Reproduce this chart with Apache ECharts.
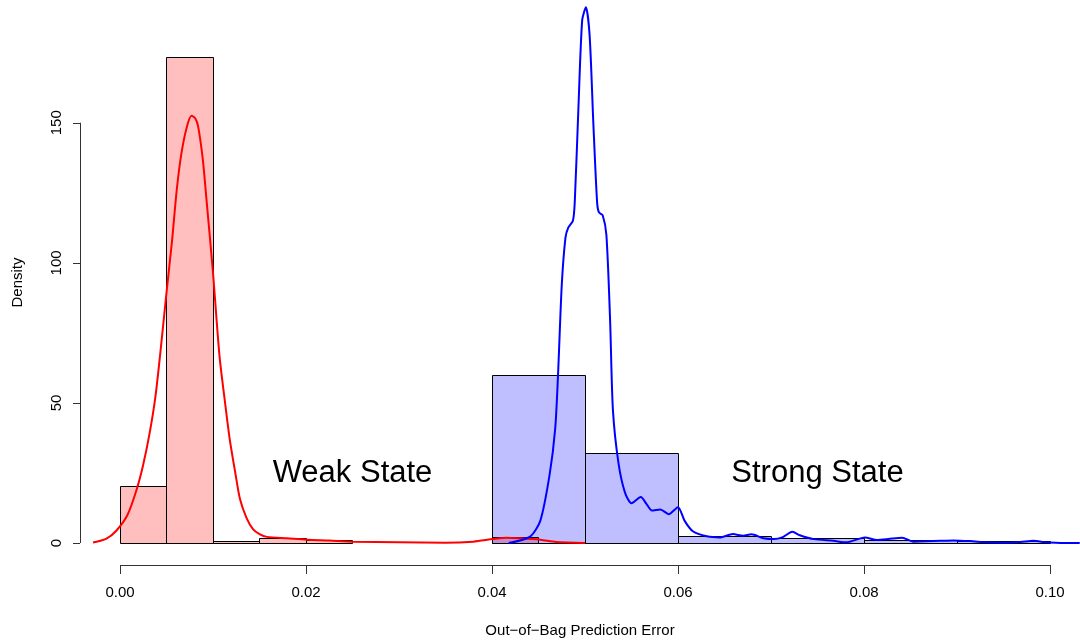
<!DOCTYPE html>
<html>
<head>
<meta charset="utf-8">
<script src="https://cdn.jsdelivr.net/npm/echarts@6/dist/echarts.min.js"></script>
<style>
html,body{margin:0;padding:0;background:#fff;}
#chart{width:1080px;height:643px;}
</style>
</head>
<body>
<div id="chart"></div>
<script>
// ---- Data ----
// Histogram bins: [start, end, density]
const weakHist = [
  [0.000, 0.005, 20.4],
  [0.005, 0.010, 173.4],
  [0.010, 0.015, 0.7],
  [0.015, 0.020, 1.7],
  [0.020, 0.025, 1.2],
  [0.040, 0.045, 2.0]
];
const strongHist = [
  [0.04, 0.05, 60.0],
  [0.05, 0.06, 32.0],
  [0.06, 0.07, 2.4],
  [0.07, 0.08, 1.7],
  [0.08, 0.09, 1.0],
  [0.09, 0.10, 0.6]
];
// Density curves [x, density]
const weakDensity = [
  [-0.0029,0.2],[-0.0015,1.5],[-0.0004,4.4],[0.0008,10],[0.0018,19.2],[0.0025,28],
  [0.0032,39.5],[0.0038,52],[0.0043,66.7],[0.0050,89.4],[0.0056,108],[0.0061,126],
  [0.0066,139],[0.0072,148.7],[0.0077,152.5],[0.0081,151.5],[0.0084,148.7],[0.0089,137],
  [0.0093,122.6],[0.0100,96.4],[0.0107,66.7],[0.0113,50],[0.0118,37],[0.0124,25],
  [0.0129,15.7],[0.0136,9],[0.0143,5],[0.0150,3.2],[0.0158,2.2],[0.0180,1.7],
  [0.0201,1.2],[0.0225,0.9],[0.0250,0.5],[0.0300,0.25],[0.0350,0.1],[0.0380,0.5],
  [0.0401,1.4],[0.0416,1.9],[0.0430,1.7],[0.0452,1.2],[0.0469,0.4],[0.0500,0]
];
const strongDensity = [
  [0.0418,0],[0.0441,2.3],[0.0452,8],[0.0462,24.5],[0.0468,41],[0.0471,60],
  [0.0475,92],[0.0479,109],[0.0482,112.6],[0.0487,115],[0.0489,121.7],[0.0493,156],
  [0.0497,186.7],[0.0501,191.2],[0.0505,181],[0.0509,149.6],[0.0513,121.7],[0.0515,118],
  [0.0519,117],[0.0523,110],[0.0527,79.5],[0.0530,47.6],[0.0536,28.5],[0.0543,18],
  [0.0550,14.2],[0.0560,16.4],[0.0566,14],[0.0572,11.6],[0.0581,12],[0.0590,10.3],
  [0.0600,12.8],[0.0607,8],[0.0616,4.2],[0.0631,2.4],[0.0645,2.0],[0.0659,3.2],
  [0.0670,2.6],[0.0679,3.1],[0.0692,1.7],[0.0703,1.4],[0.0712,2.0],[0.0723,4.0],
  [0.0731,2.8],[0.0746,1.4],[0.0767,0.8],[0.0781,0.25],[0.0801,2.0],[0.0814,1.1],
  [0.0826,1.4],[0.0841,1.9],[0.0853,0.5],[0.0867,0.6],[0.0882,0.8],[0.0896,0.95],
  [0.0914,0.7],[0.0932,0.25],[0.0950,0.1],[0.0968,0.35],[0.0982,0.8],[0.0996,0.25],
  [0.1011,0.05],[0.1032,0]
];
const annotations = [
  [0.025, 25, 'Weak State'],
  [0.075, 25, 'Strong State']
];
const xTicks = [0, 0.02, 0.04, 0.06, 0.08, 0.10];
const yTicks = [0, 50, 100, 150];
const xTitle = 'Out\u2212of\u2212Bag Prediction Error';
const yTitle = 'Density';

// ---- Scales ----
const xMin = -0.004301, xMax = 0.103226;
const yMin = -7.838, yMax = 193.82;
const FONT = '"Liberation Sans", Arial, Helvetica, sans-serif';

function histRender(fill) {
  return function (params, api) {
    const x0 = api.value(0), x1 = api.value(1), h = api.value(2);
    const p0 = api.coord([x0, h]);
    const p1 = api.coord([x1, 0]);
    return {
      type: 'rect',
      shape: {
        x: Math.round(p0[0]) + 0.5,
        y: Math.round(p0[1]) + 0.5,
        width: Math.round(p1[0]) - Math.round(p0[0]),
        height: Math.round(p1[1]) - Math.round(p0[1])
      },
      style: { fill: fill, stroke: '#000', lineWidth: 1 }
    };
  };
}

const chart = echarts.init(document.getElementById('chart'), null, { renderer: 'canvas' });
chart.setOption({
  animation: false,
  backgroundColor: '#fff',
  textStyle: { fontFamily: FONT },
  grid: { left: 80, right: 0, top: 0, bottom: 77, containLabel: false },
  xAxis: {
    type: 'value', min: xMin, max: xMax,
    axisLine: { show: false, onZero: false },
    splitLine: { show: false },
    axisTick: { show: true, customValues: xTicks, length: 9, inside: false,
      lineStyle: { color: '#333', width: 1 } },
    axisLabel: { show: true, customValues: xTicks, margin: 20,
      formatter: v => v.toFixed(2), color: '#000', fontSize: 15, fontFamily: FONT },
    name: xTitle, nameLocation: 'middle', nameGap: 58,
    nameTextStyle: { color: '#000', fontSize: 15, fontFamily: FONT }
  },
  yAxis: {
    type: 'value', min: yMin, max: yMax,
    axisLine: { show: false, onZero: false },
    splitLine: { show: false },
    axisTick: { show: true, customValues: yTicks, length: 7, inside: false,
      lineStyle: { color: '#333', width: 1 } },
    axisLabel: { show: true, customValues: yTicks, margin: 16, rotate: 90,
      color: '#000', fontSize: 15, fontFamily: FONT },
    name: yTitle, nameLocation: 'middle', nameGap: 55, nameRotate: 90,
    nameTextStyle: { color: '#000', fontSize: 15, fontFamily: FONT }
  },
  series: [
    {
      type: 'custom', name: 'weakHist', renderItem: histRender('rgba(255,0,0,0.25)'),
      data: weakHist, encode: { x: [0, 1], y: 2 }, silent: true, clip: false
    },
    {
      type: 'custom', name: 'strongHist', renderItem: histRender('rgba(0,0,255,0.25)'),
      data: strongHist, encode: { x: [0, 1], y: 2 }, silent: true, clip: false
    },
    {
      type: 'line', name: 'weakDensity', data: weakDensity, showSymbol: false,
      smooth: 0.25, clip: false, silent: true,
      lineStyle: { color: '#ff0000', width: 2 },
      markLine: {
        silent: true, symbol: ['none', 'none'], label: { show: false },
        lineStyle: { color: '#333', width: 1, type: 'solid' },
        data: [
          [{ coord: [xTicks[0], yMin] }, { coord: [xTicks[xTicks.length - 1], yMin] }],
          [{ coord: [xMin, yTicks[0]] }, { coord: [xMin, yTicks[yTicks.length - 1]] }]
        ]
      }
    },
    {
      type: 'line', name: 'strongDensity', data: strongDensity, showSymbol: false,
      smooth: 0.25, clip: true, silent: true,
      lineStyle: { color: '#0000ff', width: 2 }
    },
    {
      type: 'scatter', name: 'labels', symbolSize: 0, silent: true,
      itemStyle: { opacity: 1, color: '#000' },
      data: annotations.map(a => ({ value: [a[0], a[1]], name: a[2] })),
      label: {
        show: true, position: 'inside', formatter: p => p.name, opacity: 1,
        color: '#000', fontSize: 31, fontFamily: FONT, textBorderWidth: 0
      }
    }
  ]
});
</script>
</body>
</html>
